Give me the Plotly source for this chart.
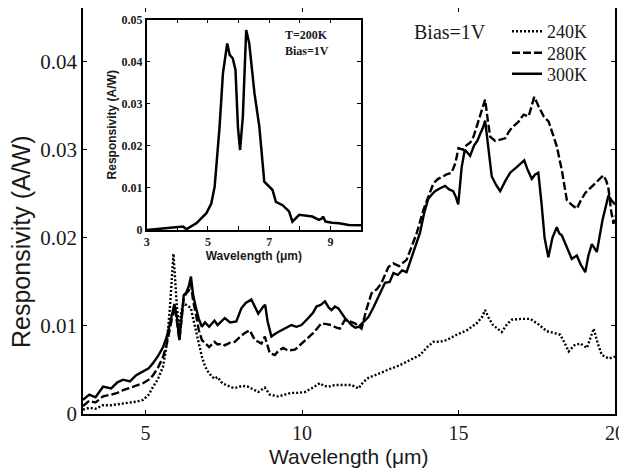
import plotly.graph_objects as go

# ---------------- main data ----------------
wl_300 = [3.0, 3.2, 3.4, 3.64, 3.9, 4.1, 4.28, 4.5, 4.7, 4.92, 5.1, 5.24, 5.4, 5.56, 5.68, 5.78, 5.86, 5.92,
          6.0, 6.08, 6.15, 6.22, 6.3, 6.38, 6.45, 6.52, 6.6, 6.7, 6.8, 6.9, 7.03, 7.2, 7.3, 7.45, 7.53, 7.7,
          7.9, 8.06, 8.2, 8.38, 8.5, 8.6, 8.76, 8.82, 8.9, 9.02, 9.18, 9.34, 9.5, 9.66, 9.82, 9.98, 10.2,
          10.35, 10.46, 10.6, 10.73, 10.85, 10.94, 11.05, 11.16, 11.28, 11.37, 11.48, 11.58, 11.7, 11.8,
          11.95, 12.12, 12.28, 12.44, 12.55, 12.65, 12.8, 12.92, 13.06, 13.2, 13.34, 13.45, 13.55, 13.66,
          13.77, 13.9, 14.03, 14.14, 14.25, 14.4, 14.57, 14.7, 14.83, 14.92, 14.99, 15.1, 15.2, 15.3, 15.37,
          15.5, 15.6, 15.69, 15.78, 15.85, 15.95, 16.06, 16.2, 16.33, 16.5, 16.65, 16.85, 17.1, 17.2, 17.34,
          17.45, 17.55, 17.65, 17.75, 17.87, 18.0, 18.14, 18.22, 18.3, 18.45, 18.62, 18.78, 18.9, 19.05,
          19.15, 19.26, 19.42, 19.6, 19.79, 19.9, 20.0]
r_300 = [0.0016, 0.0022, 0.0019, 0.0031, 0.0029, 0.0036, 0.0039, 0.0037, 0.0044, 0.0048, 0.0052, 0.0058,
         0.0066, 0.0076, 0.0088, 0.0103, 0.0118, 0.0125, 0.0110, 0.0084, 0.0110, 0.0135, 0.0138, 0.0145,
         0.0156, 0.0135, 0.0122, 0.0108, 0.0099, 0.0104, 0.0099, 0.0106, 0.0101, 0.0107, 0.0109, 0.0104,
         0.0105, 0.0120, 0.0126, 0.0130, 0.0122, 0.0114, 0.0122, 0.0124, 0.0105, 0.0088, 0.0092, 0.0095,
         0.0098, 0.0101, 0.0099, 0.0101, 0.0109, 0.0115, 0.0122, 0.0124, 0.0128, 0.0121, 0.0118, 0.0122,
         0.0120, 0.0114, 0.0109, 0.0105, 0.0101, 0.0098, 0.0099, 0.0104, 0.0110, 0.0121, 0.0133, 0.0140,
         0.0149, 0.0150, 0.0160, 0.0158, 0.0163, 0.0161, 0.0172, 0.0184, 0.0195, 0.0206, 0.0228, 0.0244,
         0.0249, 0.0253, 0.0256, 0.0259, 0.0255, 0.0253, 0.0246, 0.0238, 0.0280, 0.0300, 0.0296, 0.0293,
         0.0305, 0.0310, 0.0318, 0.0325, 0.0333, 0.0300, 0.0270, 0.0260, 0.0253, 0.0265, 0.0274, 0.0280,
         0.0288, 0.0278, 0.0267, 0.0272, 0.0274, 0.0240, 0.0200, 0.0178, 0.0200, 0.0212, 0.0205, 0.0203,
         0.0190, 0.0176, 0.0180, 0.0170, 0.0161, 0.0180, 0.0193, 0.0184, 0.0220, 0.0248, 0.0242, 0.0238]

wl_280 = [3.0, 3.2, 3.4, 3.64, 3.9, 4.1, 4.28, 4.5, 4.7, 4.92, 5.1, 5.24, 5.4, 5.56, 5.68, 5.78, 5.86, 5.92,
          6.0, 6.08, 6.15, 6.22, 6.3, 6.38, 6.45, 6.52, 6.6, 6.7, 6.8, 6.9, 7.03, 7.2, 7.3, 7.45, 7.53, 7.7,
          7.85, 8.0, 8.17, 8.33, 8.49, 8.6, 8.7, 8.81, 8.9, 8.97, 9.13, 9.25, 9.4, 9.55, 9.77, 9.95, 10.09,
          10.22, 10.36, 10.5, 10.62, 10.78, 10.94, 11.1, 11.21, 11.37, 11.5, 11.69, 11.9, 12.05, 12.22, 12.4,
          12.54, 12.66, 12.76, 12.92, 13.1, 13.34, 13.5, 13.66, 13.88, 14.09, 14.2, 14.35, 14.5, 14.62,
          14.78, 14.9, 15.0, 15.15, 15.25, 15.37, 15.48, 15.58, 15.7, 15.85, 15.93, 16.01, 16.17, 16.3,
          16.49, 16.6, 16.7, 16.92, 17.08, 17.24, 17.33, 17.42, 17.55, 17.72, 17.88, 18.0, 18.14, 18.3,
          18.46, 18.6, 18.78, 18.9, 19.05, 19.31, 19.5, 19.63, 19.72, 19.79, 19.88, 19.95, 20.0]
r_280 = [0.0009, 0.0015, 0.0013, 0.0020, 0.0022, 0.0024, 0.0027, 0.0030, 0.0032, 0.0035, 0.0039, 0.0044,
         0.0053, 0.0065, 0.0080, 0.0099, 0.0115, 0.0122, 0.0105, 0.0084, 0.0108, 0.0132, 0.0137, 0.0140,
         0.0148, 0.0128, 0.0115, 0.0095, 0.0084, 0.0080, 0.0076, 0.0082, 0.0079, 0.0080, 0.0078, 0.0081,
         0.0082, 0.0087, 0.0092, 0.0095, 0.0084, 0.0082, 0.0080, 0.0088, 0.0078, 0.0069, 0.0067, 0.0072,
         0.0075, 0.0072, 0.0073, 0.0079, 0.0084, 0.0088, 0.0092, 0.0098, 0.0103, 0.0102, 0.0101, 0.0098,
         0.0097, 0.0107, 0.0105, 0.0103, 0.0097, 0.0118, 0.0137, 0.0142, 0.0149, 0.0160, 0.0167, 0.0171,
         0.0168, 0.0175, 0.0190, 0.0205, 0.0232, 0.0251, 0.0262, 0.0267, 0.0270, 0.0272, 0.0274, 0.0285,
         0.0302, 0.0300, 0.0305, 0.0308, 0.0315, 0.0326, 0.0338, 0.0357, 0.0335, 0.0315, 0.0310, 0.0311,
         0.0313, 0.0320, 0.0325, 0.0332, 0.0340, 0.0338, 0.0348, 0.0360, 0.0350, 0.0338, 0.0332, 0.0318,
         0.0304, 0.0277, 0.0243, 0.0238, 0.0233, 0.0242, 0.0251, 0.0260, 0.0266, 0.0271, 0.0265, 0.0256,
         0.0230, 0.0216, 0.0225]

wl_240 = [3.0, 3.2, 3.4, 3.64, 3.9, 4.1, 4.28, 4.5, 4.7, 4.92, 5.1, 5.24, 5.4, 5.56, 5.68, 5.78, 5.84, 5.89,
          5.95, 6.0, 6.08, 6.15, 6.22, 6.3, 6.38, 6.45, 6.52, 6.6, 6.7, 6.8, 6.9, 7.03, 7.2, 7.3, 7.45, 7.6,
          7.77, 7.9, 8.1, 8.27, 8.45, 8.6, 8.81, 8.97, 9.1, 9.24, 9.45, 9.66, 9.9, 10.09, 10.3, 10.57, 10.7,
          10.84, 11.05, 11.26, 11.58, 11.8, 11.95, 12.12, 12.44, 12.87, 13.1, 13.4, 13.77, 14.0, 14.2, 14.4,
          14.62, 14.94, 15.26, 15.58, 15.75, 15.85, 15.95, 16.1, 16.25, 16.38, 16.55, 16.7, 17.0, 17.29,
          17.55, 17.82, 18.05, 18.25, 18.4, 18.52, 18.7, 18.9, 19.1, 19.22, 19.32, 19.45, 19.58, 19.8, 20.0]
r_240 = [0.0005, 0.0007, 0.0006, 0.0010, 0.0010, 0.0011, 0.0012, 0.0013, 0.0014, 0.0016, 0.0022, 0.0031,
         0.0040, 0.0054, 0.0080, 0.0122, 0.0155, 0.0182, 0.0150, 0.0122, 0.0097, 0.0118, 0.0125, 0.0124,
         0.0122, 0.0120, 0.0108, 0.0095, 0.0080, 0.0065, 0.0054, 0.0046, 0.0040, 0.0042, 0.0035, 0.0033,
         0.0030, 0.0030, 0.0032, 0.0031, 0.0028, 0.0025, 0.0030, 0.0022, 0.0021, 0.0020, 0.0022, 0.0024,
         0.0024, 0.0025, 0.0029, 0.0035, 0.0032, 0.0031, 0.0033, 0.0033, 0.0033, 0.0029, 0.0036, 0.0041,
         0.0046, 0.0052, 0.0055, 0.0060, 0.0067, 0.0076, 0.0082, 0.0082, 0.0084, 0.0090, 0.0095, 0.0103,
         0.0110, 0.0118, 0.0110, 0.0101, 0.0097, 0.0093, 0.0102, 0.0107, 0.0108, 0.0108, 0.0102, 0.0094,
         0.0092, 0.0090, 0.0080, 0.0071, 0.0078, 0.0080, 0.0075, 0.0088, 0.0097, 0.0080, 0.0067, 0.0063,
         0.0065]

# ---------------- inset data (T=200K) ----------------
wl_200 = [3.0, 3.65, 4.19, 4.3, 4.62, 4.95, 5.11, 5.22, 5.38, 5.49, 5.63, 5.71, 5.81, 5.9, 5.98, 6.05,
          6.14, 6.25, 6.35, 6.52, 6.68, 6.84, 7.0, 7.11, 7.22, 7.44, 7.65, 7.76, 7.98, 8.41, 8.63, 8.74,
          8.76, 8.84, 9.06, 9.28, 9.6, 9.93, 10.0]
r_200 = [0.0000, 0.0004, 0.0008, 0.0002, 0.0016, 0.0040, 0.0063, 0.0103, 0.0245, 0.0372, 0.0443, 0.0416,
         0.0408, 0.0380, 0.0245, 0.0190, 0.0269, 0.0475, 0.0443, 0.0325, 0.0245, 0.0115, 0.0103, 0.0095,
         0.0067, 0.0059, 0.0044, 0.0020, 0.0036, 0.0032, 0.0024, 0.0028, 0.0032, 0.0020, 0.0017, 0.0016,
         0.0012, 0.0010, 0.0011]

x_ticks = [5, 10, 15, 20]
y_ticks = [0, 0.01, 0.02, 0.03, 0.04]
y_ticktext = ["0", "0.01", "0.02", "0.03", "0.04"]
inset_x_ticks = [3, 4, 5, 6, 7, 8, 9, 10]
inset_x_ticktext = ["3", "", "5", "", "7", "", "9", ""]
inset_y_ticks = [0, 0.01, 0.02, 0.03, 0.04, 0.05]
inset_y_ticktext = ["0", "0.01", "0.02", "0.03", "0.04", "0.05"]

SERIF = "Liberation Serif"
SANS = "Liberation Sans"
INK = "#1a1a1a"

# page is drawn with an 8px body margin; plot area target (page px): x 83..615, y 8..414
PL, PR, PT, PB = 83, 615, 8, 414


def px_x(x):
    return (x - PL) / (PR - PL)


def px_y(y):
    return (PB - y) / (PB - PT)


fig = go.Figure()
fig.add_trace(go.Scatter(x=wl_240, y=r_240, mode="lines", name="240K", legend="legend",
                         line=dict(color="black", width=2.4, dash="2px,2px")))
fig.add_trace(go.Scatter(x=wl_280, y=r_280, mode="lines", name="280K", legend="legend2",
                         line=dict(color="black", width=2.4, dash="8px,3px")))
fig.add_trace(go.Scatter(x=wl_300, y=r_300, mode="lines", name="300K", legend="legend3",
                         line=dict(color="black", width=2.4)))
fig.add_trace(go.Scatter(x=wl_200, y=r_200, mode="lines", showlegend=False,
                         line=dict(color="black", width=2.5), xaxis="x2", yaxis="y2"))

axis_common = dict(showline=True, linecolor="black", linewidth=1.5, mirror="ticks",
                   ticks="inside", ticklen=4, tickcolor="black", showgrid=False, zeroline=False)

leg_common = dict(xanchor="left", yanchor="middle", bgcolor="rgba(0,0,0,0)",
                  font=dict(family=SERIF, size=18, color=INK), borderwidth=0)

fig.update_layout(
    width=619, height=461,
    margin=dict(l=75, r=12, t=0, b=55, autoexpand=False),
    paper_bgcolor="white", plot_bgcolor="white",
    xaxis=dict(range=[3, 20], tickvals=x_ticks, tickfont=dict(family=SERIF, size=20, color=INK),
               **axis_common),
    yaxis=dict(range=[0, 0.0461], tickvals=y_ticks, ticktext=y_ticktext,
               tickfont=dict(family=SERIF, size=21, color=INK), **axis_common),
    xaxis2=dict(domain=[px_x(146.7), px_x(361)], anchor="y2", range=[3, 10], tickvals=inset_x_ticks,
                ticktext=inset_x_ticktext,
                tickfont=dict(family=SERIF, size=12, color=INK, weight="bold"),
                title=dict(text="<b>Wavelength (\u03bcm)</b>", font=dict(family=SANS, size=12, color=INK),
                           standoff=0), **axis_common),
    yaxis2=dict(domain=[px_y(230), px_y(19.5)], anchor="x2", range=[0, 0.05], tickvals=inset_y_ticks,
                ticktext=inset_y_ticktext, tickfont=dict(family=SERIF, size=12, color=INK, weight="bold"),
                title=dict(text="<b>Responsivity (A/W)</b>", font=dict(family=SANS, size=12, color=INK),
                           standoff=2), **axis_common),
    legend=dict(x=px_x(507), y=px_y(31.5), **leg_common),
    legend2=dict(x=px_x(507), y=px_y(53), **leg_common),
    legend3=dict(x=px_x(507), y=px_y(74), **leg_common),
    annotations=[
        dict(text="Responsivity (A/W)", xref="paper", yref="paper", x=px_x(21), y=px_y(242),
             textangle=-90, showarrow=False, font=dict(family=SANS, size=25, color=INK),
             xanchor="center", yanchor="middle"),
        dict(text="Wavelength (\u03bcm)", xref="paper", yref="paper", x=px_x(349), y=px_y(470),
             showarrow=False, font=dict(family=SANS, size=21, color=INK),
             xanchor="center", yanchor="bottom"),
        dict(text="Bias=1V", xref="paper", yref="paper", x=px_x(450), y=px_y(32),
             showarrow=False, font=dict(family=SERIF, size=20, color=INK), xanchor="center", yanchor="middle"),
        dict(text="<b>T=200K<br>Bias=1V</b>", xref="paper", yref="paper", x=px_x(283), y=px_y(43.5),
             showarrow=False, align="left", font=dict(family=SERIF, size=12, color=INK),
             xanchor="left", yanchor="middle"),
    ],
)

fig.write_html("out.html")
